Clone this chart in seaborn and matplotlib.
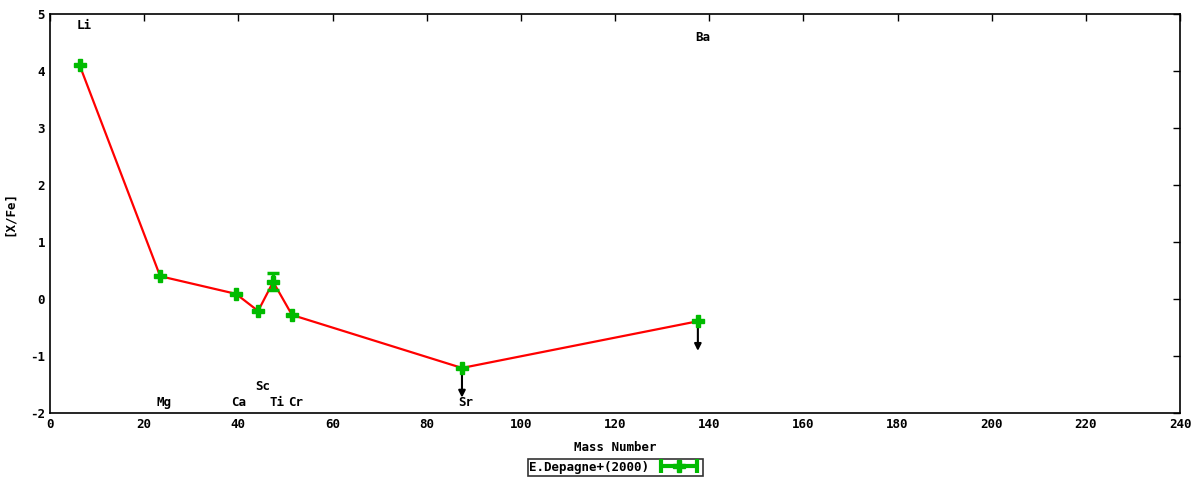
import numpy as np
import pandas as pd
import matplotlib
matplotlib.use('Agg')
import matplotlib.pyplot as plt
import seaborn as sns
from matplotlib.lines import Line2D
from matplotlib.legend_handler import HandlerLine2D, HandlerTuple

# values
elements = ['Li', 'Mg', 'Ca', 'Sc', 'Ti', 'Cr', 'Sr', 'Ba']
mass = [6.3, 23.4, 39.5, 44.2, 47.4, 51.4, 87.5, 137.6]
xfe = [4.1, 0.4, 0.09, -0.21, 0.30, -0.28, -1.21, -0.39]
xfe_err = [0.0, 0.0, 0.0, 0.0, 0.15, 0.0, 0.0, 0.0]
upper_limit = [False, False, False, False, False, False, True, True]

# element label positions
label_x = [7.2, 24.2, 40.1, 45.2, 48.2, 52.2, 88.4, 138.7]
label_y = [4.8, -1.82, -1.82, -1.54, -1.82, -1.82, -1.82, 4.58]

df = pd.DataFrame({'mass': mass, 'xfe': xfe, 'err': xfe_err,
                   'ul': upper_limit, 'el': elements})

sns.set_style('white')
plt.rcParams['font.family'] = ['DejaVu Sans Mono']
plt.rcParams['font.weight'] = 'bold'
plt.rcParams['axes.unicode_minus'] = False
plt.rcParams['text.color'] = 'black'
plt.rcParams['axes.labelcolor'] = 'black'

fig = plt.figure(figsize=(12, 4.8), dpi=100)
ax = fig.add_axes([50 / 1200, 1 - 413 / 480, 1130 / 1200, 399 / 480])

sns.lineplot(data=df, x='mass', y='xfe', color='red', linewidth=1.6, ax=ax,
             legend=False, zorder=2)

green = '#00bb00'
ax.errorbar(df['mass'], df['xfe'], yerr=df['err'], fmt='P', color=green,
            markersize=9, elinewidth=2.5, capsize=4, capthick=2.5, zorder=4)

# upper limit arrows
for _, r in df[df['ul']].iterrows():
    ax.annotate('', xy=(r['mass'], r['xfe'] - 0.52), xytext=(r['mass'], r['xfe']),
                arrowprops=dict(arrowstyle='-|>', color='black', lw=1.5,
                                mutation_scale=10, shrinkA=0, shrinkB=0),
                zorder=3)

for el, lx, ly in zip(elements, label_x, label_y):
    ax.text(lx, ly, el, ha='center', va='center', fontsize=9,
            fontweight='bold', color='black')

ax.set_xlim(0, 240)
ax.set_ylim(-2, 5)
ax.set_xticks(np.arange(0, 241, 20))
ax.set_yticks(np.arange(-2, 6, 1))
ax.tick_params(direction='in', top=True, right=True, length=5, width=1,
               labelsize=9, colors='black')
for lab in ax.get_xticklabels() + ax.get_yticklabels():
    lab.set_fontweight('bold')
for s in ax.spines.values():
    s.set_visible(True)
    s.set_color('black')
    s.set_linewidth(1.2)

ax.set_xlabel('Mass Number', fontsize=9, fontweight='bold', labelpad=7)
ax.set_ylabel('[X/Fe]', fontsize=9, fontweight='bold', labelpad=10)

# legend handle: horizontal green error bar with a plus in the middle
cap_h = Line2D([0, 1], [0, 0], color=green, lw=3, marker='|', markersize=10,
               markeredgewidth=3)
plus_h = Line2D([0], [0], color=green, lw=0, marker='P', markersize=8)
leg = ax.legend(handles=[(cap_h, plus_h)], labels=['E.Depagne+(2000)'],
                handler_map={cap_h: HandlerLine2D(numpoints=2),
                             plus_h: HandlerLine2D(numpoints=1),
                             tuple: HandlerTuple(ndivide=1, pad=0)},
                loc='upper center', bbox_to_anchor=(0.5, -0.115),
                frameon=True, fancybox=False, fontsize=9, markerfirst=False,
                handlelength=3.5, borderpad=0.15, handletextpad=0.6,
                borderaxespad=0)
leg.get_frame().set_edgecolor('black')
leg.get_frame().set_linewidth(1.2)

fig.savefig('out.png', dpi=100)
